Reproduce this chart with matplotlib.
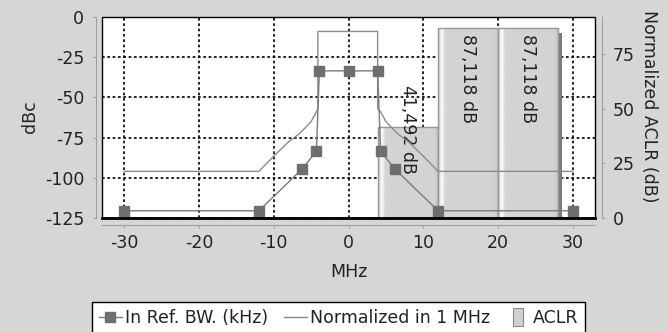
import numpy as np
import matplotlib
matplotlib.use("Agg")
import matplotlib.pyplot as plt
from matplotlib.patches import Rectangle
from matplotlib.lines import Line2D
from matplotlib.path import Path

# ---------------- data ----------------
ref_bw_x = [-30, -12, -6.2, -4.3, -3.9, 0, 3.9, 4.3, 6.2, 12, 30]
ref_bw_y = [-120.5, -120.5, -94.5, -83.5, -33.5, -33.5, -33.5, -83.5, -94.5, -120.5, -120.5]

norm_x = [-30, -12, -10, -8, -6.5, -5, -4.3, -4.1, -4.1,
          3.9, 3.9, 4.3, 5, 6.5, 8, 10, 12, 30]
norm_y = [-96, -96, -86.5, -77.5, -72.3, -65, -59, -57, -9,
          -9, -57, -59, -65, -72.3, -77.5, -86.5, -96, -96]

aclr_center = [8, 16, 24]
aclr_width = [8, 8, 8]
aclr_db = [41.492, 87.118, 87.118]
aclr_labels = ["41,492 dB", "87,118 dB", "87,118 dB"]
aclr_label_top = [61, 84, 84]

x_ticks = [-30, -20, -10, 0, 10, 20, 30]
left_ticks = [0, -25, -50, -75, -100, -125]
right_ticks = [0, 25, 50, 75]

# ---------------- style ----------------
plt.rcParams["font.family"] = ["DejaVu Sans"]
plt.rcParams["axes.unicode_minus"] = False
FS = 12.5
TXT = "#222222"
SPINE = "#a0a0a0"
BG = "#d6d6d6"

W, H = 667, 332
fig = plt.figure(figsize=(W / 100, H / 100), dpi=100, facecolor=BG)
pos = [102 / W, 1 - 218 / H, 493 / W, 201 / H]

XLIM = (-33, 33)
YLIM = (-125, 0)
Y2LIM = (0, 92)

# background layer: white plot area + dotted grid
ax_bg = fig.add_axes(pos, zorder=1)
ax_bg.set_facecolor("white")
ax_bg.set_xlim(XLIM)
ax_bg.set_ylim(YLIM)
for s in ax_bg.spines.values():
    s.set_visible(False)
ax_bg.set_xticks([])
ax_bg.set_yticks([])
for xv in x_ticks:
    ax_bg.axvline(xv, color="black", lw=1.2, ls=(0, (1.6, 1.6)))
for yv in left_ticks:
    ax_bg.axhline(yv, color="black", lw=1.2, ls=(0, (1.6, 1.6)))

# middle layer: ACLR bars on right axis
ax2 = fig.add_axes(pos, zorder=2)
ax2.patch.set_visible(False)
ax2.set_xlim(XLIM)
ax2.set_ylim(Y2LIM)

f = np.linspace(0, 1, 240)
grad = (0.83
        + 0.15 * np.exp(-((f - 0.065) / 0.035) ** 2)
        - 0.12 * np.exp(-(f / 0.015) ** 2)
        - 0.05 * np.exp(-((f - 1) / 0.04) ** 2))
grad = np.clip(grad, 0, 1)[np.newaxis, :]

for i, (c, w, h) in enumerate(zip(aclr_center, aclr_width, aclr_db)):
    x0 = c - w / 2
    z = 2 + 4 * i
    shadow = Rectangle((x0 + w, 0), 0.55, h - 2.5, facecolor="#7c7c7c",
                       edgecolor="none", zorder=z)
    ax2.add_patch(shadow)
    body = Rectangle((x0, 0), w, h, facecolor="#d4d4d4", edgecolor="none", zorder=z + 1)
    ax2.add_patch(body)
    im = ax2.imshow(grad, extent=(x0, x0 + w, 0, h), aspect="auto", cmap="gray",
                    vmin=0, vmax=1, interpolation="bilinear", zorder=z + 2)
    im.set_clip_path(body)
    ax2.add_patch(Rectangle((x0, 0), w, h, fill=False, edgecolor="#979797",
                            lw=1.0, zorder=z + 3))
    ax2.text(c, aclr_label_top[i], aclr_labels[i], rotation=270, ha="center", va="top",
             fontsize=FS, color=TXT, zorder=40)

ax2.set_xlim(XLIM)
ax2.set_ylim(Y2LIM)
ax2.set_xticks([])
ax2.yaxis.tick_right()
ax2.yaxis.set_label_position("right")
ax2.set_yticks(right_ticks)
for k in ("left", "top", "bottom"):
    ax2.spines[k].set_visible(False)
ax2.spines["right"].set_position(("outward", 5))
ax2.spines["right"].set_color(SPINE)
ax2.tick_params(axis="y", direction="out", length=2.5, width=0.8, color=SPINE,
                pad=5.5, labelsize=FS, labelcolor=TXT)
ax2.set_ylabel("Normalized ACLR (dB)", rotation=270, fontsize=FS, color=TXT,
               ha="center", va="center")
ax2.yaxis.set_label_coords(1.1095, 0.557)

# top layer: lines on left axis
ax = fig.add_axes(pos, zorder=3)
ax.patch.set_visible(False)
ax.plot(norm_x, norm_y, color="#8a8a8a", lw=1.0, zorder=5)
ax.plot(ref_bw_x, ref_bw_y, color="#7a7a7a", lw=1.0, marker="s", ms=7,
        mfc="#6e6e6e", mec="#6e6e6e", zorder=6)
ax.set_xlim(XLIM)
ax.set_ylim(YLIM)
ax.set_xticks(x_ticks)
ax.set_yticks(left_ticks)
ax.spines["top"].set_visible(False)
ax.spines["right"].set_visible(False)
ax.spines["left"].set_position(("outward", 4.3))
ax.spines["bottom"].set_position(("outward", 5))
ax.spines["left"].set_color(SPINE)
ax.spines["bottom"].set_color(SPINE)
ax.tick_params(axis="both", direction="out", length=2.5, width=0.8, color=SPINE,
               labelsize=FS, labelcolor=TXT)
ax.tick_params(axis="y", pad=6)
ax.tick_params(axis="x", pad=4)
ax.set_ylabel("dBc", fontsize=FS, color=TXT, ha="center", va="center")
ax.yaxis.set_label_coords(-0.146, 0.502)
ax.set_xlabel("MHz", fontsize=FS, color=TXT, ha="center", va="center")
ax.xaxis.set_label_coords(0.5, -0.271)

# black plot frame
ax.add_patch(Rectangle((0, 0), 1, 1, transform=ax.transAxes, fill=False,
                       edgecolor="black", lw=1.0, clip_on=False, zorder=10))
ax.add_line(Line2D([0, 1], [0, 0], transform=ax.transAxes, color="black",
                   lw=2.0, clip_on=False, zorder=10))

# legend
rect_marker = Path([(-0.27, -0.5), (0.27, -0.5), (0.27, 0.5), (-0.27, 0.5), (-0.27, -0.5)],
                   [Path.MOVETO, Path.LINETO, Path.LINETO, Path.LINETO, Path.CLOSEPOLY])
handles = [
    Line2D([], [], color="#7a7a7a", lw=1.0, marker="s", ms=7, mfc="#6e6e6e", mec="#6e6e6e"),
    Line2D([], [], color="#8a8a8a", lw=1.0),
    Line2D([], [], ls="none", marker=rect_marker, ms=13, mfc="#d0d0d0", mec="#8a8a8a",
           mew=0.8),
]
labels = ["In Ref. BW. (kHz)", "Normalized in 1 MHz", "ACLR"]
leg = ax.legend(handles, labels, loc="upper left", ncol=3, mode="expand",
                bbox_to_anchor=(92 / W, 0, 493 / W, 1 - 302 / H),
                bbox_transform=fig.transFigure,
                borderaxespad=0, fontsize=FS, frameon=True, fancybox=False,
                edgecolor="black", facecolor="white", framealpha=1,
                handlelength=1.3, handletextpad=0.2, columnspacing=0.5,
                borderpad=0.4)
leg.get_frame().set_linewidth(1.0)
for t in leg.get_texts():
    t.set_color(TXT)

fig.savefig("out.png", dpi=100, facecolor=BG)
